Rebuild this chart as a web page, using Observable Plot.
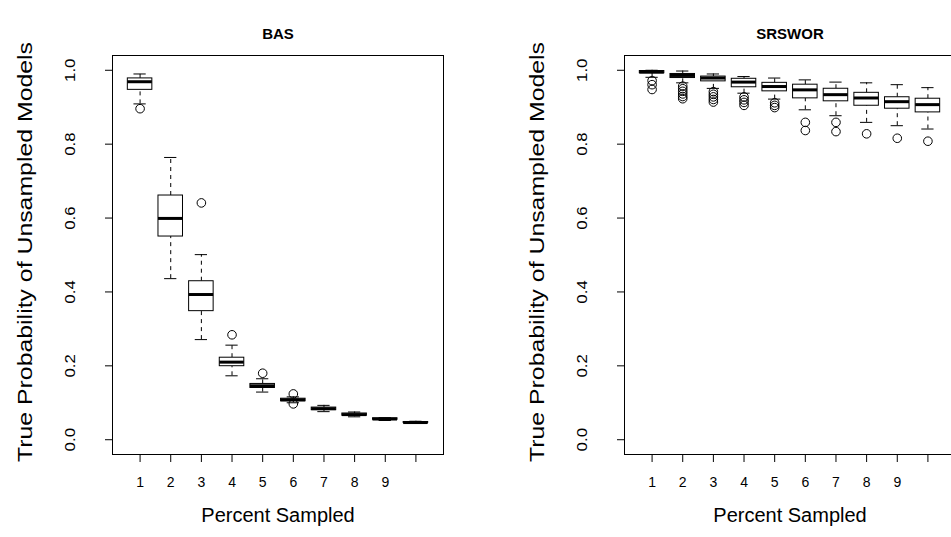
<!DOCTYPE html>
<html>
<head>
<meta charset="utf-8">
<script src="https://cdn.jsdelivr.net/npm/d3@7"></script>
<script src="https://cdn.jsdelivr.net/npm/@observablehq/plot@0.6"></script>
<style>
  html, body { margin: 0; padding: 0; background: #fff; overflow: hidden; }
  #wrap { position: relative; width: 951px; height: 537px; overflow: hidden; }
  #wrap svg { position: absolute; top: 0; }
</style>
</head>
<body>
<div id="wrap"></div>
<script>
// ---- data ----
const percent = [1, 2, 3, 4, 5, 6, 7, 8, 9, 10];
const xTickLabels = ["1", "2", "3", "4", "5", "6", "7", "8", "9", ""];
const yTicks = [0, 0.2, 0.4, 0.6, 0.8, 1.0];

// BAS panel
const basLower  = [0.909, 0.436, 0.271, 0.173, 0.129, 0.100, 0.076, 0.062, 0.052, 0.044];
const basQ1     = [0.947, 0.550, 0.348, 0.199, 0.140, 0.104, 0.080, 0.065, 0.054, 0.0455];
const basMedian = [0.969, 0.599, 0.393, 0.210, 0.146, 0.108, 0.084, 0.068, 0.056, 0.0465];
const basQ3     = [0.978, 0.661, 0.429, 0.222, 0.151, 0.111, 0.087, 0.071, 0.058, 0.048];
const basUpper  = [0.990, 0.764, 0.501, 0.256, 0.165, 0.116, 0.093, 0.075, 0.060, 0.050];
const basOutliers = [[0.896], [], [0.641], [0.284], [0.180], [0.124, 0.097], [], [], [], []];

// SRSWOR panel
const srsLower  = [0.981, 0.966, 0.951, 0.938, 0.922, 0.893, 0.877, 0.859, 0.850, 0.841];
const srsQ1     = [0.992, 0.979, 0.970, 0.954, 0.943, 0.924, 0.916, 0.904, 0.896, 0.886];
const srsMedian = [0.995, 0.986, 0.979, 0.968, 0.956, 0.947, 0.934, 0.925, 0.915, 0.907];
const srsQ3     = [0.998, 0.990, 0.983, 0.977, 0.966, 0.961, 0.950, 0.939, 0.927, 0.923];
const srsUpper  = [1.000, 0.998, 0.990, 0.983, 0.979, 0.974, 0.968, 0.966, 0.961, 0.953];
const srsOutliers = [
  [0.972, 0.961, 0.948],
  [0.957, 0.950, 0.943, 0.936, 0.929, 0.923],
  [0.942, 0.935, 0.928, 0.921, 0.914],
  [0.928, 0.920, 0.913, 0.905],
  [0.912, 0.905, 0.899],
  [0.859, 0.837],
  [0.859, 0.834],
  [0.828],
  [0.816],
  [0.808]
];

const yLabel = "True Probability of Unsampled Models";
const xLabel = "Percent Sampled";
const FONT = "'Liberation Sans', Arial, Helvetica, sans-serif";

function panel(title, lower, q1, med, q3, upper, outl, opts) {
  const stats = percent.map((x, i) => ({x, lw: lower[i], q1: q1[i], med: med[i], q3: q3[i], uw: upper[i]}));
  const outs = percent.flatMap((x, i) => outl[i].map(v => ({x, v})));
  const hw = 0.4, cap = 0.2;
  const svg = Plot.plot({
    width: opts.width,
    height: 537,
    marginLeft: opts.marginLeft,
    marginRight: opts.marginRight,
    marginTop: 55,
    marginBottom: 83,
    style: {fontFamily: FONT, background: "white", overflow: "visible"},
    x: {type: "linear", domain: [0.1, 10.9]},
    y: {domain: [-0.04, 1.04]},
    marks: [
      // whiskers
      Plot.ruleX(stats, {x: "x", y1: "q3", y2: "uw", stroke: "black", strokeDasharray: "4,4"}),
      Plot.ruleX(stats, {x: "x", y1: "lw", y2: "q1", stroke: "black", strokeDasharray: "4,4"}),
      // caps
      Plot.ruleY(stats, {y: "uw", x1: d => d.x - cap, x2: d => d.x + cap, stroke: "black"}),
      Plot.ruleY(stats, {y: "lw", x1: d => d.x - cap, x2: d => d.x + cap, stroke: "black"}),
      // boxes
      Plot.rect(stats, {x1: d => d.x - hw, x2: d => d.x + hw, y1: "q1", y2: "q3", fill: "white", stroke: "black", strokeWidth: 1}),
      // medians
      Plot.ruleY(stats, {y: "med", x1: d => d.x - hw, x2: d => d.x + hw, stroke: "black", strokeWidth: 3}),
      // outliers
      Plot.dot(outs, {x: "x", y: "v", r: 4.3, stroke: "black", fill: "none", strokeWidth: 1}),
      // frame
      Plot.frame({stroke: "black", strokeWidth: 1}),
      // axes
      Plot.axisY({ticks: yTicks, tickSize: 7, tickFormat: () => "", label: null}),
      Plot.text(yTicks, {y: d => d, text: d => d.toFixed(1), frameAnchor: "left", textAnchor: "middle",
        dx: -42, rotate: -90, fontSize: 14, fill: "black"}),
      Plot.axisX({ticks: percent, tickSize: 8, tickPadding: 15, tickFormat: (d, i) => xTickLabels[i], label: null, fontSize: 14}),
      // labels
      Plot.text([title], {frameAnchor: "top", dy: -27, fontWeight: "bold", fontSize: 15, fill: "black"}),
      Plot.text([yLabel], {frameAnchor: "left", textAnchor: "middle", dx: -87, dy: -3, rotate: -90, fontSize: 21, fill: "black"}),
      Plot.text([xLabel], {frameAnchor: "bottom", dy: 67, fontSize: 20, fill: "black"})
    ]
  });
  svg.style.left = opts.left + "px";
  return svg;
}

function stretch(svg) {
  // the reference is drawn taller than wide: stretch texts that run vertically
  const tickSet = new Set(yTicks.map(d => d.toFixed(1)));
  svg.querySelectorAll("text").forEach(t => {
    const s = t.textContent;
    const tr = t.getAttribute("transform") || "";
    if (s === yLabel) {
      t.setAttribute("textLength", 420);
      t.setAttribute("lengthAdjust", "spacingAndGlyphs");
    } else if (tickSet.has(s) && tr.includes("rotate")) {
      const L = t.getComputedTextLength();
      t.setAttribute("textLength", (L * 1.2).toFixed(1));
      t.setAttribute("lengthAdjust", "spacingAndGlyphs");
    }
  });
}

const wrap = document.getElementById("wrap");
const s1 = panel("BAS", basLower, basQ1, basMedian, basQ3, basUpper, basOutliers,
  {left: 0, width: 476, marginLeft: 112, marginRight: 33});
const s2 = panel("SRSWOR", srsLower, srsQ1, srsMedian, srsQ3, srsUpper, srsOutliers,
  {left: 476, width: 479, marginLeft: 148, marginRight: 0});
wrap.appendChild(s1);
wrap.appendChild(s2);
stretch(s1);
stretch(s2);
</script>
</body>
</html>
